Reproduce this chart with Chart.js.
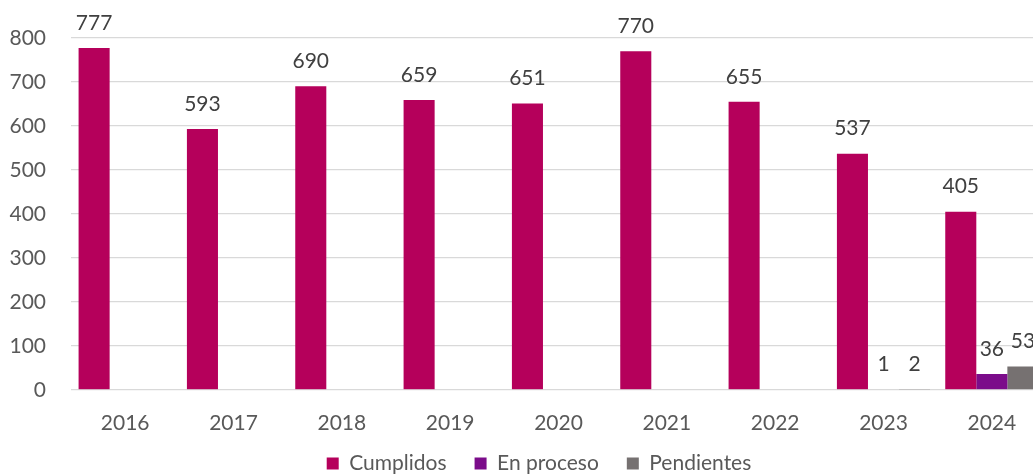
<!DOCTYPE html>
<html lang="es">
<head>
  <meta charset="UTF-8">
  <title>Cumplidos / En proceso / Pendientes</title>
  <script src="https://cdn.jsdelivr.net/npm/chart.js"></script>
  <style>
    body { margin: 0; background: #fff; }
    #wrap { width: 1033px; height: 474px; overflow: hidden; }
    #wrap div { width: 1046px; height: 474px; position: relative; }
  </style>
</head>
<body>
  <div id="wrap"><div><canvas id="chart"></canvas></div></div>

  <script>
    const years = ['2016', '2017', '2018', '2019', '2020', '2021', '2022', '2023', '2024'];
    const cumplidos = [777, 593, 690, 659, 651, 770, 655, 537, 405];
    const enProceso = [0, 0, 0, 0, 0, 0, 0, 1, 36];
    const pendientes = [0, 0, 0, 0, 0, 0, 0, 2, 53];

    const FONT = 'Lato';
    const SIZE = 21;
    const TEXT = '#595959';

    // value labels above each bar (zeros are left out)
    const barLabels = {
      id: 'barLabels',
      afterDatasetsDraw(chart) {
        const ctx = chart.ctx;
        ctx.save();
        ctx.font = SIZE + 'px ' + FONT;
        ctx.fillStyle = '#404040';
        ctx.textAlign = 'center';
        ctx.textBaseline = 'middle';
        chart.data.datasets.forEach((ds, i) => {
          chart.getDatasetMeta(i).data.forEach((bar, j) => {
            const v = ds.data[j];
            if (!v) return;
            ctx.fillText(String(v), bar.x, bar.y - 25);
          });
        });
        ctx.restore();
      }
    };

    // nudge the legend: the original is centred on the uncropped chart
    const legendShift = {
      id: 'legendShift',
      afterLayout(chart) {
        const lg = chart.legend;
        lg.left += 16; lg.right += 16;
        lg.top -= 24; lg.bottom -= 24;
      }
    };

    new Chart(document.getElementById('chart'), {
      type: 'bar',
      data: {
        labels: years,
        datasets: [
          { label: 'Cumplidos', data: cumplidos, backgroundColor: '#B5005B' },
          { label: 'En proceso', data: enProceso, backgroundColor: '#7B0C8A' },
          { label: 'Pendientes', data: pendientes, backgroundColor: '#767171' }
        ]
      },
      options: {
        responsive: true,
        maintainAspectRatio: false,
        animation: false,
        layout: { padding: { top: 38, left: 0, right: 0, bottom: -34 } },
        datasets: { bar: { categoryPercentage: 0.86, barPercentage: 1 } },
        scales: {
          x: {
            grid: { display: false },
            border: { display: false },
            ticks: { color: TEXT, font: { family: FONT, size: SIZE }, padding: 13 }
          },
          y: {
            min: 0,
            max: 800,
            afterFit: (scale) => { scale.width = 71; },
            grid: { color: '#d9d9d9', drawTicks: false, lineWidth: 1.3 },
            border: { display: false },
            ticks: { stepSize: 100, color: TEXT, font: { family: FONT, size: SIZE }, padding: 25 }
          }
        },
        plugins: {
          legend: {
            position: 'bottom',
            labels: {
              color: TEXT,
              font: { family: FONT, size: SIZE },
              boxWidth: 12,
              boxHeight: 12,
              padding: 28
            }
          },
          tooltip: { enabled: false }
        }
      },
      plugins: [barLabels, legendShift]
    });
  </script>
</body>
</html>
